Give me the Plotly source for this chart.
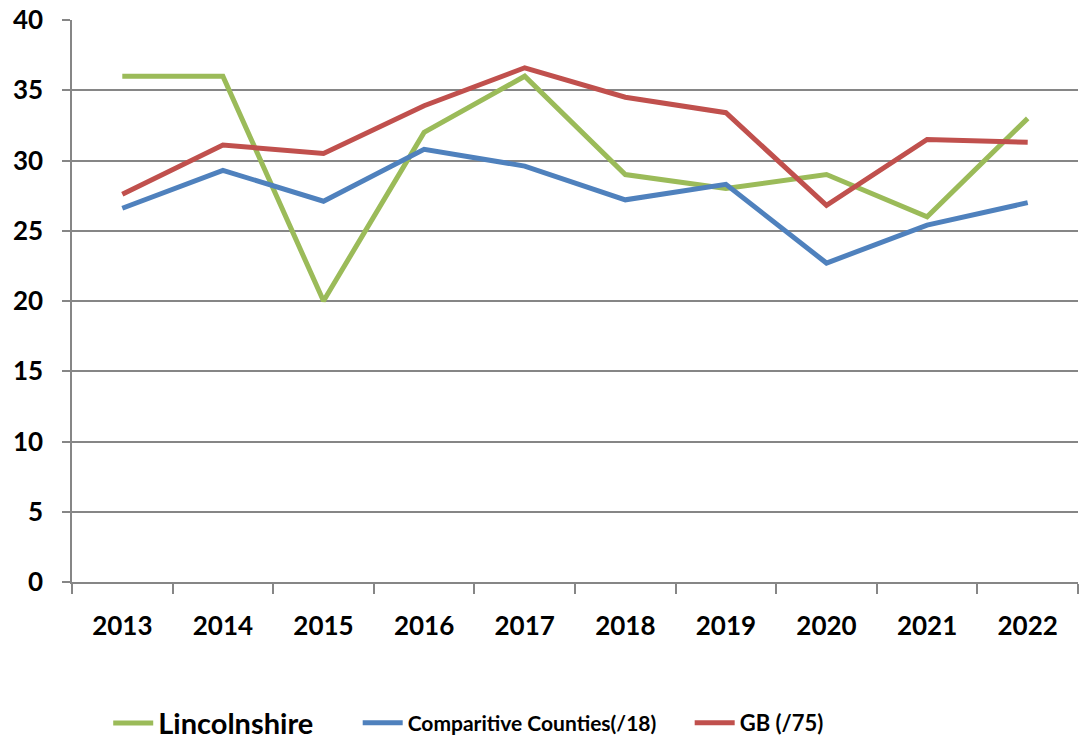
import plotly.graph_objects as go

years = ["2013", "2014", "2015", "2016", "2017", "2018", "2019", "2020", "2021", "2022"]
lincolnshire = [36, 36, 20, 32, 36, 29, 28, 29, 26, 33]
comparative = [26.6, 29.3, 27.1, 30.8, 29.6, 27.2, 28.3, 22.7, 25.4, 27.0]
gb = [27.6, 31.1, 30.5, 33.9, 36.6, 34.5, 33.4, 26.8, 31.5, 31.3]
y_ticks = [0, 5, 10, 15, 20, 25, 30, 35, 40]

font_family = "Lato, Open Sans, sans-serif"

fig = go.Figure()
fig.add_trace(go.Scatter(x=years, y=lincolnshire, mode="lines", name="<b>Lincolnshire</b>",
                         line=dict(color="#9BBB59", width=5), legend="legend"))
fig.add_trace(go.Scatter(x=years, y=comparative, mode="lines", name="<b>Comparitive Counties(/18)</b>",
                         line=dict(color="#4F81BD", width=5), legend="legend2"))
fig.add_trace(go.Scatter(x=years, y=gb, mode="lines", name="<b>GB (/75)</b>",
                         line=dict(color="#C0504D", width=5), legend="legend3"))

leg_common = dict(orientation="h", yanchor="middle", y=-0.251, xanchor="left",
                  bgcolor="rgba(0,0,0,0)", itemwidth=40)

fig.update_layout(
    width=1080, height=746,
    margin=dict(l=72, r=2, t=20, b=164, autoexpand=False),
    paper_bgcolor="white", plot_bgcolor="white",
    font=dict(family=font_family, size=26, color="black"),
    showlegend=True,
    legend=dict(x=0.036, font=dict(family=font_family, size=29, color="black"), **leg_common),
    legend2=dict(x=0.284, font=dict(family=font_family, size=21, color="black"), **leg_common),
    legend3=dict(x=0.614, font=dict(family=font_family, size=22, color="black"), **leg_common),
)
fig.update_xaxes(
    type="category", range=[-0.5, 9.5], automargin=False,
    showgrid=False, showline=True, linecolor="#868686", linewidth=1.5,
    ticks="outside", tickson="boundaries", ticklen=10, tickcolor="#868686", tickwidth=1.5,
    ticklabelstandoff=20,
    tickfont=dict(family=font_family, size=26, color="black", weight="bold"),
    zeroline=False,
)
fig.update_yaxes(
    range=[0, 40], tickvals=y_ticks, automargin=False,
    showgrid=True, gridcolor="#868686", gridwidth=1.5,
    showline=True, linecolor="#868686", linewidth=1.5,
    ticks="outside", ticklen=8, tickcolor="#868686", tickwidth=1.5,
    ticklabelstandoff=14, ticklabeloverflow="allow",
    tickfont=dict(family=font_family, size=26, color="black", weight="bold"),
    zeroline=False,
)

fig.write_html("out.html", config={"displayModeBar": False},
               post_script="document.body.style.margin='0';document.body.style.overflow='hidden';")
